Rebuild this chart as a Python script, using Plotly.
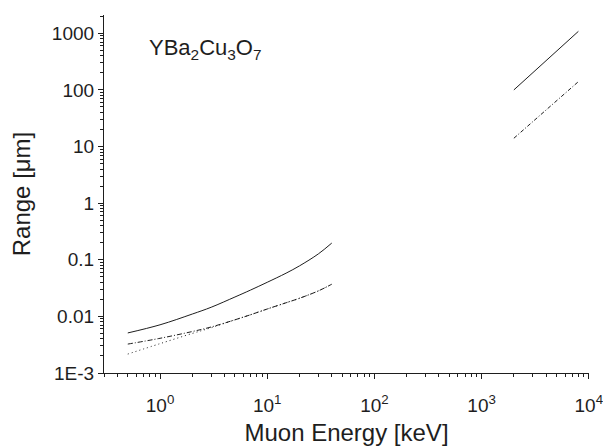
import plotly.graph_objects as go
import numpy as np

# ---- data ----
energy_low = [0.5, 1, 2, 3, 5, 7, 10, 15, 20, 30, 40]
range_solid_low = [0.0051, 0.0071, 0.0110, 0.0145, 0.0220, 0.0292, 0.0400, 0.0580, 0.078, 0.127, 0.197]
range_dashdot_low = [0.00324, 0.0041, 0.0054, 0.0065, 0.0087, 0.0107, 0.0135, 0.0174, 0.0209, 0.0282, 0.037]
range_dot_low = [0.00216, 0.0033, 0.0050, 0.0063, 0.0087, 0.0107, 0.0135, 0.0174, 0.0209, 0.0282, 0.037]

energy_high = [2000, 3000, 4000, 5000, 6000, 8000]
range_solid_high = [100, 201, 329, 483, 662, 1083]
range_dashdot_high = [14, 27.5, 44.2, 64, 86.7, 140]

y_tick_vals = [0.001, 0.01, 0.1, 1, 10, 100, 1000]
y_tick_text = ["1E-3", "0.01", "0.1", "1", "10", "100", "1000"]
x_tick_vals = [1, 10, 100, 1000, 10000]
x_tick_text = ["10<sup>0</sup>", "10<sup>1</sup>", "10<sup>2</sup>", "10<sup>3</sup>", "10<sup>4</sup>"]

line_color = "#1e1e1e"
font_family = "Liberation Sans, Arial, sans-serif"

fig = go.Figure()
fig.add_trace(go.Scatter(x=energy_low, y=range_solid_low, mode="lines",
                         line=dict(color=line_color, width=1, dash="solid", shape="spline")))
fig.add_trace(go.Scatter(x=energy_low, y=range_dashdot_low, mode="lines",
                         line=dict(color=line_color, width=1, dash="5px,2px,1px,2px", shape="spline")))
fig.add_trace(go.Scatter(x=energy_low, y=range_dot_low, mode="lines",
                         line=dict(color=line_color, width=1, dash="1px,3px", shape="spline")))
fig.add_trace(go.Scatter(x=energy_high, y=range_solid_high, mode="lines",
                         line=dict(color=line_color, width=1, dash="solid")))
fig.add_trace(go.Scatter(x=energy_high, y=range_dashdot_high, mode="lines",
                         line=dict(color=line_color, width=1, dash="4px,2px,1px,2px")))

def minors(lo, hi):
    vals = []
    for e in range(lo, hi):
        for m in range(2, 10):
            vals.append(m * 10.0 ** e)
    return vals

fig.update_layout(
    width=603, height=446,
    margin=dict(l=104, r=14, t=15, b=73),
    paper_bgcolor="white", plot_bgcolor="white",
    showlegend=False,
    font=dict(family=font_family, color="#1e1e1e", size=19),
    xaxis=dict(
        type="log", range=[np.log10(0.3), 4.002], automargin=False,
        ticklabeloverflow="allow", ticklabelstandoff=10,
        tickmode="array", tickvals=x_tick_vals, ticktext=x_tick_text,
        ticks="outside", ticklen=5, tickwidth=1, tickcolor=line_color,
        showline=True, linecolor=line_color, linewidth=1.2, mirror=False,
        showgrid=False, zeroline=False,
        minor=dict(tickmode="array", tickvals=minors(-1, 4), ticks="outside",
                   ticklen=3, tickwidth=1, tickcolor=line_color, showgrid=False),
        title=dict(text="Muon Energy [keV]", font=dict(size=24), standoff=12),
        tickfont=dict(size=19),
    ),
    yaxis=dict(
        type="log", range=[-3, 3.323], automargin=False,
        tickmode="array", tickvals=y_tick_vals, ticktext=y_tick_text,
        ticks="outside", ticklen=5, tickwidth=1, tickcolor=line_color,
        showline=True, linecolor=line_color, linewidth=1.2, mirror=False,
        showgrid=False, zeroline=False,
        minor=dict(tickmode="array", tickvals=minors(-3, 4), ticks="outside",
                   ticklen=3, tickwidth=1, tickcolor=line_color, showgrid=False),
        title=dict(text="Range [μm]", font=dict(size=24), standoff=14),
        tickfont=dict(size=19),
    ),
    annotations=[dict(
        text="YBa<sub>2</sub>Cu<sub>3</sub>O<sub>7</sub>",
        xref="paper", yref="paper", x=0.088, y=0.905,
        xanchor="left", yanchor="middle", showarrow=False,
        font=dict(size=22, color="#1e1e1e", family=font_family),
    )],
)

fig.write_html("out.html")
